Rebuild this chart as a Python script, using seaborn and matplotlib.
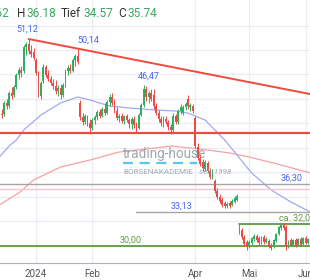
import matplotlib
matplotlib.use("Agg")
import matplotlib.pyplot as plt
import seaborn as sns
import pandas as pd
import numpy as np

# ---------------- data ----------------
start_date = "2023-12-11"
opens = [44.0, 43.5, 43.5, 44.6, 44.3, 45.6, 45.4, 46.2, 47.4, 48.0,
         47.8, 50.3, 50.6, 49.9, 49.8, 49.0, 47.6, 45.3, 46.8, 48.3,
         47.4, 47.0, 46.6, 46.3, 45.8, 46.1, 45.4, 46.4, 47.9, 48.2,
         47.9, 49.0, 49.4, 44.6, 43.1, 42.6, 43.2, 42.5, 42.0, 42.8,
         43.1, 43.7, 43.3, 44.0, 43.6, 44.7, 45.2, 44.6, 43.8, 43.0,
         43.3, 42.7, 43.2, 42.8, 42.4, 42.9, 42.3, 42.0, 43.4, 44.4,
         46.0, 45.2, 45.6, 45.4, 44.3, 43.6, 42.9, 42.5, 42.9, 42.6,
         42.1, 41.8, 43.2, 42.6, 43.8, 43.6, 44.2, 45.0, 44.2, 44.3,
         43.0, 40.1, 39.0, 38.5, 37.8, 38.4, 37.6, 37.0, 36.6, 35.6,
         35.0, 34.7, 34.4, 34.0, 34.4, 34.1, 34.5, 34.7, 31.4, 31.6,
         30.9, 30.4, 30.0, 30.3, 30.7, 31.0, 30.8, 30.3, 30.9, 30.4,
         30.5, 30.1, 29.9, 30.5, 31.2, 31.8, 32.1, 31.9, 29.9, 30.6,
         30.1, 30.6, 30.1, 30.7, 30.2, 30.8, 30.3, 30.7]
highs = [44.3, 44.0, 44.8, 45.0, 45.8, 46.2, 46.4, 47.6, 48.3, 48.4,
         50.5, 50.8, 51.12, 50.5, 50.2, 49.2, 47.9, 46.8, 48.6, 48.5,
         48.0, 47.3, 47.0, 46.9, 46.4, 46.5, 46.6, 48.1, 48.5, 48.6,
         49.2, 49.6, 50.14, 44.9, 43.6, 43.5, 43.4, 42.9, 43.0, 43.4,
         43.9, 44.0, 44.2, 44.6, 44.9, 45.5, 45.6, 45.0, 44.2, 43.5,
         43.6, 43.4, 43.5, 43.0, 43.1, 43.2, 42.6, 43.6, 44.6, 46.47,
         46.3, 45.8, 46.0, 46.0, 44.6, 43.9, 43.3, 43.2, 43.3, 42.8,
         42.4, 43.6, 43.5, 44.0, 44.5, 44.4, 44.7, 45.4, 44.6, 44.5,
         43.2, 40.5, 39.4, 38.9, 38.7, 38.6, 37.9, 37.8, 36.8, 35.9,
         35.3, 35.0, 34.6, 34.5, 34.6, 34.8, 35.1, 35.3, 32.2, 31.8,
         31.1, 30.6, 30.6, 30.9, 31.2, 31.2, 31.0, 31.0, 31.1, 30.9,
         30.7, 30.3, 30.7, 31.3, 32.0, 32.3, 32.3, 32.1, 30.6, 30.8,
         30.7, 30.8, 30.8, 30.9, 30.9, 31.0, 30.8, 30.9]
lows = [43.2, 43.0, 43.3, 44.0, 44.1, 45.0, 45.2, 46.0, 47.0, 47.2,
        47.6, 49.5, 49.6, 49.3, 49.0, 47.4, 45.2, 45.0, 46.6, 47.2,
        46.8, 46.4, 46.0, 45.5, 45.3, 45.0, 45.2, 46.2, 47.4, 47.6,
        47.7, 48.4, 48.6, 42.8, 42.3, 42.4, 42.2, 41.4, 41.8, 42.4,
        42.8, 43.0, 43.1, 43.4, 43.5, 44.3, 44.4, 43.6, 42.8, 42.6,
        42.5, 42.4, 42.6, 42.0, 41.9, 42.0, 41.6, 41.9, 43.2, 44.2,
        44.8, 44.6, 44.8, 44.0, 43.4, 42.6, 42.2, 42.1, 42.4, 41.8,
        41.4, 41.6, 42.4, 42.4, 43.5, 43.4, 43.9, 44.0, 43.8, 43.6,
        40.0, 38.8, 38.1, 37.6, 37.6, 37.4, 36.8, 36.8, 35.4, 34.8,
        34.4, 33.9, 33.8, 33.8, 33.8, 34.0, 34.4, 34.6, 31.2, 30.7,
        30.0, 29.6, 29.8, 30.1, 30.5, 30.4, 30.1, 30.2, 30.2, 30.3,
        29.8, 29.6, 29.8, 30.4, 31.1, 31.6, 31.6, 29.5, 29.8, 30.0,
        30.0, 29.9, 30.0, 30.0, 30.1, 30.2, 30.2, 30.1]
closes = [43.5, 43.4, 44.6, 44.3, 45.6, 45.3, 46.2, 47.4, 48.0, 47.6,
          50.3, 50.6, 49.9, 49.6, 49.2, 47.6, 45.4, 46.6, 48.3, 47.4,
          47.0, 46.6, 46.3, 45.8, 46.1, 45.4, 46.4, 47.9, 48.2, 47.9,
          49.0, 49.4, 48.8, 43.1, 42.6, 43.2, 42.5, 42.0, 42.8, 43.1,
          43.7, 43.3, 44.0, 43.6, 44.7, 45.2, 44.6, 43.8, 43.0, 43.3,
          42.7, 43.2, 42.8, 42.4, 42.9, 42.3, 42.0, 43.4, 44.4, 46.0,
          45.2, 45.6, 45.0, 44.3, 43.6, 42.9, 42.5, 42.9, 42.6, 42.1,
          41.8, 43.2, 42.6, 43.8, 44.2, 44.2, 44.5, 44.3, 44.4, 43.8,
          40.2, 39.0, 38.3, 37.9, 38.5, 37.6, 37.0, 37.5, 35.6, 35.0,
          34.6, 34.1, 34.0, 34.3, 34.0, 34.6, 34.9, 35.1, 31.8, 30.9,
          30.2, 29.9, 30.4, 30.8, 31.0, 30.6, 30.3, 30.9, 30.4, 30.7,
          30.0, 29.8, 30.6, 31.2, 31.9, 32.1, 31.8, 29.9, 30.5, 30.1,
          30.6, 30.0, 30.7, 30.1, 30.8, 30.3, 30.7, 30.2]

# moving averages (read at sample positions, index of trading day)
ma_blue_idx = [0, 4, 7, 10, 17, 25, 32, 37, 45, 53, 64, 72, 77, 84, 92, 98, 103, 111, 119, 127]
ma_blue_val = [39.05, 40.18, 40.80, 41.82, 43.35, 44.58, 45.19, 44.89, 44.27, 44.07,
               43.86, 43.76, 43.55, 42.84, 40.80, 38.95, 37.42, 35.68, 34.46, 33.43]
ma_red_idx = [0, 8.5, 14, 25, 37, 49, 64, 70, 82, 94, 102, 115, 127]
ma_red_val = [34.15, 35.48, 36.71, 38.03, 38.75, 39.57, 39.98, 40.18, 39.88, 39.47,
              39.06, 38.24, 37.42]

# trend line through the two highs
trend_idx = [12, 32]
trend_val = [51.12, 50.14]

# horizontal levels
red_level = 41.51
resist_level = 36.30
close_level = 35.74
support_level = 33.44
support_start = 56
zone_low = 29.97
zone_high = 32.21
zone_high_start = 98

peak_labels = ["51,12", "50,14", "46,47"]
peak_idx = [12, 32, 59]
peak_val = [51.12, 50.14, 46.47]

tick_labels = ["2024", "Feb", "Apr", "Mai", "Jun"]
tick_dates = ["2024-01-01", "2024-02-01", "2024-04-01", "2024-05-01", "2024-06-03"]

header_names = ["H", "Tief", "C"]
header_vals = ["36.18", "34.57", "35.74"]
open_val = "35.62"

# ---------------- plot ----------------
sns.set_theme(style="white")
plt.rcParams['font.family'] = ['Roboto', 'DejaVu Sans']

dates = pd.bdate_range(start_date, periods=len(opens))
n = len(opens)
idx = np.arange(n)
df = pd.DataFrame({"i": idx, "o": opens, "h": highs, "l": lows, "c": closes})

W, H = 310, 280
fig = plt.figure(figsize=(W / 100, H / 100), dpi=100)
ax = fig.add_axes([0, 17 / H, 1, 263 / H])
ax.set_xlim(0.3, 126.8)
ax.set_ylim(28.22, 55.11)

# grid
grid_col = "#ebebf5"
for g in [32.5, 35, 37.5, 40, 42.5, 45, 47.5, 50, 52.5]:
    ax.axhline(g, color=grid_col, lw=0.8, zorder=0)
tick_pos = [int(np.searchsorted(dates, pd.Timestamp(d))) for d in tick_dates]
for t in tick_pos:
    ax.axvline(t, color=grid_col, lw=0.8, zorder=0)

# moving averages
sns.lineplot(x=ma_red_idx, y=ma_red_val, ax=ax, color="#f5a3a3", lw=0.9, zorder=2)
sns.lineplot(x=ma_blue_idx, y=ma_blue_val, ax=ax, color="#a3a8f2", lw=0.9, zorder=2)

# levels
ax.axhline(red_level, color="#f04a3e", lw=1.6, zorder=3)
ax.axhline(resist_level, color="#a6a6a6", lw=1.0, zorder=3)
ax.axhline(close_level, color="#f6c6cf", lw=1.0, zorder=3)
ax.plot([support_start, n], [support_level, support_level], color="#a6a6a6", lw=1.0, zorder=3)
ax.axhline(zone_low, color="#5e9a3c", lw=1.3, zorder=3)
ax.plot([zone_high_start, n], [zone_high, zone_high], color="#5e9a3c", lw=1.3, zorder=3)

# trend line
slope = (trend_val[1] - trend_val[0]) / (trend_idx[1] - trend_idx[0])
tx = np.array([trend_idx[0], n])
ax.plot(tx, trend_val[0] + slope * (tx - trend_idx[0]), color="#f04a3e", lw=1.4, zorder=3)

# candles
up = df["c"] >= df["o"]
cols = np.where(up, "#2fb05f", "#ef4a45")
ax.vlines(df["i"], df["l"], df["h"], colors=cols, lw=0.7, zorder=4)
body_lo = np.minimum(df["o"], df["c"])
body_h = np.maximum(np.abs(df["c"] - df["o"]), 0.06)
ax.bar(df["i"], body_h, bottom=body_lo, width=0.75, color=cols, lw=0, zorder=5)

# labels
blue = "#4466f0"
ax.annotate(peak_labels[0], (peak_idx[0], peak_val[0]), xytext=(-1, 4), textcoords="offset points",
            ha="center", va="bottom", fontsize=6.5, color=blue)
ax.annotate(peak_labels[1], (peak_idx[1], peak_val[1]), xytext=(0, 3), textcoords="offset points",
            ha="left", va="bottom", fontsize=6.5, color=blue)
ax.annotate(peak_labels[2], (peak_idx[2], peak_val[2]), xytext=(-4, 3), textcoords="offset points",
            ha="left", va="bottom", fontsize=6.5, color=blue)
ax.annotate("36,30", (124, resist_level), xytext=(0, 1), textcoords="offset points",
            ha="right", va="bottom", fontsize=6.5, color=blue)
ax.annotate("33,13", (support_start + 23, support_level), xytext=(0, 1), textcoords="offset points",
            ha="right", va="bottom", fontsize=6.5, color=blue)
green_txt = "#5e9a3c"
ax.annotate("30,00", (58, zone_low), xytext=(0, 1), textcoords="offset points",
            ha="right", va="bottom", fontsize=6.5, color=green_txt)
ax.annotate("ca. 32,00", (114, zone_high), xytext=(0, 1), textcoords="offset points",
            ha="left", va="bottom", fontsize=6.5, color=green_txt)

# axes styling
for s in ["left", "right", "top"]:
    ax.spines[s].set_visible(False)
ax.spines["bottom"].set_color("#b0b0b8")
ax.spines["bottom"].set_linewidth(0.8)
ax.set_yticks([])
ax.set_xticks(tick_pos)
ax.set_xticklabels(tick_labels)
ax.tick_params(axis="x", length=3, width=0.7, color="#b0b0b8", labelsize=7, labelcolor="#555555", pad=1.5)
ax.set_xlabel("")
ax.set_ylabel("")

# watermark
wm = "#8e979f"
fig.text(123 / W, 1 - 158 / H, "trading-house", fontsize=9.8, color=wm, alpha=0.85, ha="left", va="baseline")
fig.text(123 / W, 1 - 173.5 / H, "BÖRSENAKADEMIE", fontsize=5.9, color=wm, alpha=0.8, ha="left", va="baseline")
fig.text(199 / W, 1 - 173.5 / H, "seit 1998", fontsize=5.9, color=wm, alpha=0.8, ha="left", va="baseline",
         style="italic")
fig.add_artist(plt.Line2D([123 / W, 197 / W], [1 - 163 / H, 1 - 163 / H], color="#5cc4f0", lw=1.6,
                          dashes=(4.5, 3)))

# header
dark = "#333333"
gtxt = "#39a860"
hy = 1 - 17 / H
fig.text(9.5 / W, hy, open_val, fontsize=8.5, color=gtxt, ha="right", va="baseline")
name_x = [17, 61, 118]
val_x = [26, 83, 128]
for nm, vl, nx, vx in zip(header_names, header_vals, name_x, val_x):
    fig.text(nx / W, hy, nm, fontsize=8.5, color=dark, ha="left", va="baseline")
    fig.text(vx / W, hy, vl, fontsize=8.5, color=gtxt, ha="left", va="baseline")

fig.savefig("out.png", dpi=100)
